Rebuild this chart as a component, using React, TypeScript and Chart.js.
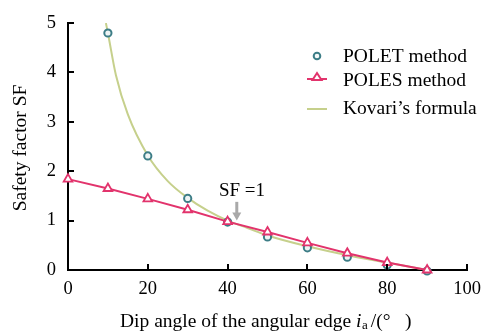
import React, { useEffect, useRef } from "react";
import { Chart, registerables } from "chart.js";

Chart.register(...registerables);

const angles = [0, 10, 20, 30, 40, 50, 60, 70, 80, 90];
const poletValues = [null, 4.8, 2.31, 1.45, 0.97, 0.67, 0.45, 0.26, 0.1, -0.02];
const polesValues = [1.84, 1.65, 1.44, 1.22, 0.98, 0.77, 0.55, 0.34, 0.15, 0.0];
const kovariX = [9.5, 10, 12, 15, 20, 25, 30, 35, 40, 45, 50, 60, 70, 80, 90];
const kovariY = [5.0, 4.8, 3.95, 3.15, 2.32, 1.8, 1.46, 1.2, 1.0, 0.85, 0.7, 0.48, 0.3, 0.15, 0.0];
const xTicks = [0, 20, 40, 60, 80, 100];
const yTicks = [0, 1, 2, 3, 4, 5];
const legendLabels = ["POLET method", "POLES method", "Kovari\u2019s formula"];
const annotationText = "SF =1";

const FONT = '"Liberation Serif", "Times New Roman", serif';
const TEAL = "#3c7d86";
const RED = "#e2336c";
const GREEN = "#c6d08c";
const TXT = 19.5;

const customPlugin = {
  id: "custom",
  afterDraw(chart: any) {
    const ctx = chart.ctx;
    const xs = chart.scales.x;
    const ys = chart.scales.y;
    const area = chart.chartArea;
    ctx.save();
    // inward ticks
    ctx.strokeStyle = "#000";
    ctx.lineWidth = 2;
    xTicks.forEach((v) => {
      const px = Math.round(xs.getPixelForValue(v));
      ctx.beginPath();
      ctx.moveTo(px, area.bottom);
      ctx.lineTo(px, area.bottom - 6);
      ctx.stroke();
    });
    yTicks.forEach((v) => {
      const py = Math.round(ys.getPixelForValue(v));
      ctx.beginPath();
      ctx.moveTo(area.left, py);
      ctx.lineTo(area.left + 6, py);
      ctx.stroke();
    });

    // annotation
    ctx.fillStyle = "#000";
    ctx.font = "19px " + FONT;
    ctx.textAlign = "center";
    ctx.textBaseline = "middle";
    ctx.fillText(annotationText, xs.getPixelForValue(43.6), ys.getPixelForValue(1.6));
    const ax = xs.getPixelForValue(42.3);
    const ay1 = ys.getPixelForValue(1.38);
    const ay2 = ys.getPixelForValue(1.0);
    ctx.strokeStyle = "#a9a9a9";
    ctx.fillStyle = "#a9a9a9";
    ctx.lineWidth = 3;
    ctx.beginPath();
    ctx.moveTo(ax, ay1);
    ctx.lineTo(ax, ay2 - 7);
    ctx.stroke();
    ctx.beginPath();
    ctx.moveTo(ax - 4.5, ay2 - 8);
    ctx.lineTo(ax + 4.5, ay2 - 8);
    ctx.lineTo(ax, ay2);
    ctx.closePath();
    ctx.fill();

    // legend
    const lx = 317;
    const tx = 343;
    const rows = [57, 81, 109];
    ctx.textAlign = "left";
    ctx.textBaseline = "middle";
    ctx.font = TXT + "px " + FONT;
    // circle
    ctx.lineWidth = 2;
    ctx.strokeStyle = TEAL;
    ctx.fillStyle = "#f4f8f8";
    ctx.beginPath();
    ctx.arc(lx, rows[0] - 1, 3.3, 0, Math.PI * 2);
    ctx.fill();
    ctx.stroke();
    // poles
    ctx.strokeStyle = RED;
    ctx.beginPath();
    ctx.moveTo(lx - 10, rows[1] - 2);
    ctx.lineTo(lx + 10, rows[1] - 2);
    ctx.stroke();
    ctx.fillStyle = "#fff";
    ctx.beginPath();
    ctx.moveTo(lx, rows[1] - 8);
    ctx.lineTo(lx + 4.5, rows[1] - 1);
    ctx.lineTo(lx - 4.5, rows[1] - 1);
    ctx.closePath();
    ctx.fill();
    ctx.stroke();
    // kovari
    ctx.strokeStyle = GREEN;
    ctx.beginPath();
    ctx.moveTo(lx - 10, rows[2]);
    ctx.lineTo(lx + 10, rows[2]);
    ctx.stroke();
    ctx.fillStyle = "#000";
    legendLabels.forEach((t, i) => ctx.fillText(t, tx, rows[i]));

    // axis titles
    ctx.textBaseline = "alphabetic";
    ctx.textAlign = "left";
    let x = 120;
    const by = 327;
    const p1 = "Dip angle of the angular edge ";
    ctx.font = TXT + "px " + FONT;
    ctx.fillText(p1, x, by);
    x += ctx.measureText(p1).width;
    ctx.font = "italic " + TXT + "px " + FONT;
    ctx.fillText("i", x, by);
    x += ctx.measureText("i").width + 0.5;
    ctx.font = "13px " + FONT;
    ctx.fillText("a", x, by + 2);
    x += ctx.measureText("a").width + 3;
    ctx.font = TXT + "px " + FONT;
    ctx.fillText("/(\u00b0   )", x, by);

    ctx.translate(21, 148);
    ctx.rotate(-Math.PI / 2);
    ctx.textAlign = "center";
    ctx.textBaseline = "middle";
    ctx.fillText("Safety factor SF", 0, 0);
    ctx.restore();
  },
};

export default function App() {
  const ref = useRef<HTMLCanvasElement>(null);
  useEffect(() => {
    if (!ref.current) return;
    const chart = new Chart(ref.current, {
      type: "line",
      data: {
        datasets: [
          {
            label: legendLabels[1],
            data: angles.map((a, i) => ({ x: a, y: polesValues[i] })),
            borderColor: RED,
            borderWidth: 2,
            backgroundColor: "#ffffff",
            pointStyle: "triangle",
            pointRadius: 5,
            pointBorderWidth: 1.8,
            pointBorderColor: RED,
            pointBackgroundColor: "#ffffff",
            order: 0,
            clip: false,
          },
          {
            label: legendLabels[0],
            data: angles
              .map((a, i) => ({ x: a, y: poletValues[i] }))
              .filter((p) => p.y !== null) as any,
            showLine: false,
            pointStyle: "circle",
            pointRadius: 3.6,
            pointBorderWidth: 2,
            pointBorderColor: TEAL,
            pointBackgroundColor: "#eef4f4",
            order: 1,
            clip: false,
          },
          {
            label: legendLabels[2],
            data: kovariX.map((a, i) => ({ x: a, y: kovariY[i] })),
            borderColor: GREEN,
            borderWidth: 2,
            pointRadius: 0,
            cubicInterpolationMode: "monotone",
            order: 2,
          },
        ],
      },
      options: {
        animation: false,
        responsive: false,
        maintainAspectRatio: false,
        layout: { padding: { left: 0, top: 21, right: 22, bottom: 0 } },
        plugins: { legend: { display: false }, tooltip: { enabled: false } },
        scales: {
          x: {
            type: "linear",
            min: 0,
            max: 100,
            afterFit: (s: any) => {
              s.height = 64;
            },
            afterBuildTicks: (s: any) => {
              s.ticks = xTicks.map((v) => ({ value: v }));
            },
            grid: { display: true, drawOnChartArea: false, drawTicks: false },
            border: { display: true, color: "#000", width: 2 },
            ticks: {
              padding: 8,
              color: "#000",
              font: { family: FONT, size: 18.5 },
              maxRotation: 0,
            },
          },
          y: {
            type: "linear",
            min: 0,
            max: 5,
            afterFit: (s: any) => {
              s.width = 68;
            },
            afterBuildTicks: (s: any) => {
              s.ticks = yTicks.map((v) => ({ value: v }));
            },
            grid: { display: true, drawOnChartArea: false, drawTicks: false },
            border: { display: true, color: "#000", width: 2 },
            ticks: {
              padding: 12,
              color: "#000",
              font: { family: FONT, size: 18.5 },
            },
          },
        },
      },
      plugins: [customPlugin],
    } as any);
    return () => chart.destroy();
  }, []);
  return (
    <div style={{ position: "fixed", left: 0, top: 0, width: 489, height: 334, background: "#fff" }}>
      <canvas ref={ref} width={489} height={334} style={{ width: 489, height: 334 }} />
    </div>
  );
}
